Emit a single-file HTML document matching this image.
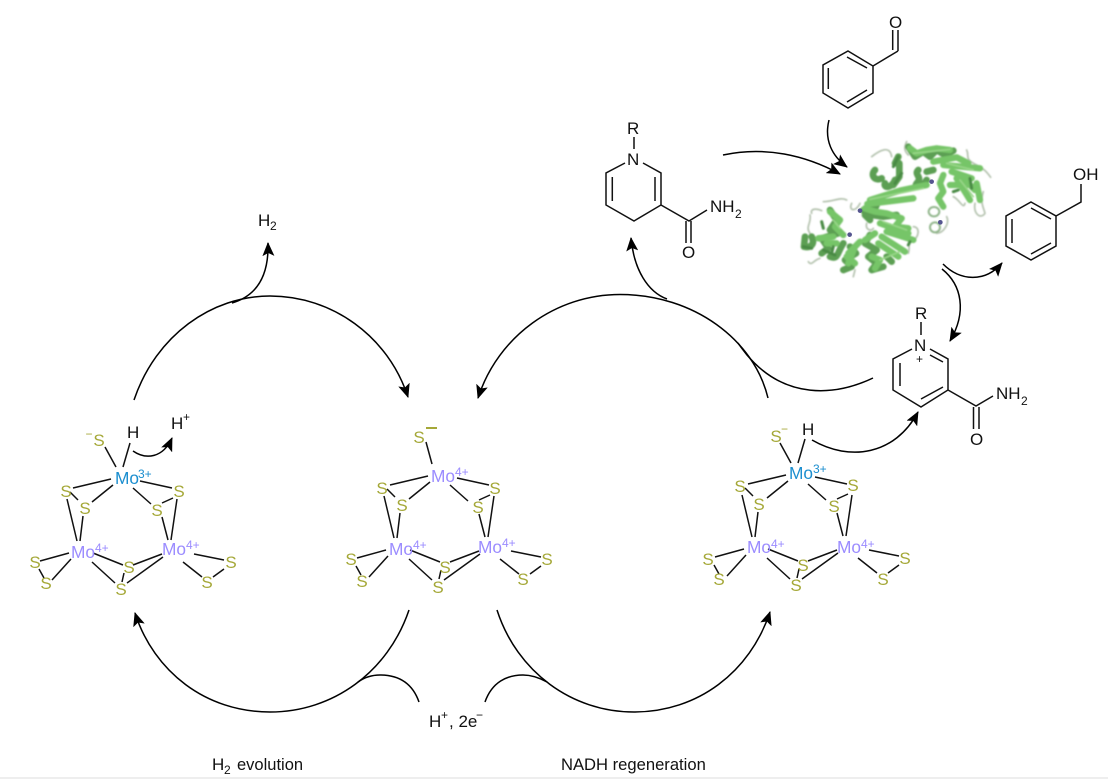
<!DOCTYPE html>
<html><head><meta charset="utf-8"><style>
html,body{margin:0;padding:0;background:#fff;width:1108px;height:780px;overflow:hidden}
svg{display:block}
text{font-family:"Liberation Sans",Arial,sans-serif;font-size:17px;fill:#111}
.s{fill:#a5a838;text-anchor:middle}
.m4{fill:#9b8cff;font-size:17.3px}.m3{fill:#1b8ecf;font-size:17.3px}
text.sm{font-size:12px}
.b{fill:none;stroke:#111;stroke-width:1.5}
.a{fill:none;stroke:#000;stroke-width:1.5}
</style></head><body>
<svg width="1108" height="780" viewBox="0 0 1108 780" xmlns="http://www.w3.org/2000/svg">
<defs>
<marker id="ar" viewBox="0 0 14 12" refX="13" refY="6" markerWidth="14" markerHeight="12" markerUnits="userSpaceOnUse" orient="auto"><path d="M0 0L14 6L0 12L3 6Z" fill="#000"/></marker>
<filter id="bl" x="-5%" y="-5%" width="110%" height="110%"><feGaussianBlur stdDeviation="2.4"/></filter>
<path id="cl" d="M105 447L116 467M70 492L78 500 M73 488L111 479M92 502L113 485M67 499L77 541M83 516L80 541M140 481L172 488M133 488L151 504M162 503L173 498M177 499L171 540M162 517L168 540M40 561L69 553M39 569L44 578M52 580L71 559M93 553L123 565M92 562L115 583M133 565L162 554M127 583L163 557M124 573L122 582M194 554L224 560M183 562L202 577M213 577L224 569"/>
</defs>

<!-- clusters -->
<use href="#cl" class="b"/><path class="b" d="M130 443L123 467"/>
<text class="s" x="99" y="446">S</text><text class="s sm" x="89" y="438">−</text>
<text x="127" y="438">H</text>
<text class="m3" x="115" y="484">Mo</text><text class="m3 sm" x="138" y="478">3+</text>
<text class="s" x="66" y="497">S</text><text class="s" x="85" y="514">S</text><text class="s" x="179" y="497">S</text><text class="s" x="157" y="516">S</text>
<text class="m4" x="71" y="558">Mo</text><text class="m4 sm" x="95" y="552">4+</text>
<text class="m4" x="162" y="555">Mo</text><text class="m4 sm" x="186" y="549">4+</text>
<text class="s" x="35" y="568">S</text><text class="s" x="46" y="589">S</text><text class="s" x="231" y="568">S</text><text class="s" x="207" y="588">S</text><text class="s" x="129" y="573">S</text><text class="s" x="121" y="595">S</text>

<g transform="translate(317,-3)"><path class="b" d="M109 445L115 467 M70 492L78 500 M73 488L111 479M92 502L113 485M67 499L77 541M83 516L80 541M140 481L172 488M133 488L151 504M162 503L173 498M177 499L171 540M162 517L168 540M40 561L69 553M39 569L44 578M52 580L71 559M93 553L123 565M92 562L115 583M133 565L162 554M127 583L163 557M124 573L122 582M194 554L224 560M183 562L202 577M213 577L224 569"/></g>
<text class="s" x="419" y="443">S</text><rect x="426" y="427" width="11" height="2" fill="#a5a838"/>
<text class="m4" x="431" y="482">Mo</text><text class="m4 sm" x="455" y="476">4+</text>
<text class="s" x="382" y="494">S</text><text class="s" x="402" y="511">S</text><text class="s" x="495" y="494">S</text><text class="s" x="478" y="513">S</text>
<text class="m4" x="389" y="555">Mo</text><text class="m4 sm" x="413" y="549">4+</text>
<text class="m4" x="478" y="553">Mo</text><text class="m4 sm" x="502" y="547">4+</text>
<text class="s" x="351" y="565">S</text><text class="s" x="362" y="587">S</text><text class="s" x="547" y="565">S</text><text class="s" x="523" y="585">S</text><text class="s" x="445" y="573">S</text><text class="s" x="438" y="593">S</text>

<g transform="translate(675,-4)"><use href="#cl" class="b"/><path class="b" d="M130 443L123 467"/></g>
<text class="s" x="776" y="442">S</text><text class="sm" x="781" y="433" style="fill:#a5a838">−</text>
<text x="802" y="435">H</text>
<text class="m3" x="789" y="479">Mo</text><text class="m3 sm" x="813" y="473">3+</text>
<text class="s" x="740" y="492">S</text><text class="s" x="759" y="510">S</text><text class="s" x="853" y="491">S</text><text class="s" x="834" y="512">S</text>
<text class="m4" x="747" y="553">Mo</text><text class="m4 sm" x="771" y="548">4+</text>
<text class="m4" x="837" y="553">Mo</text><text class="m4 sm" x="861" y="548">4+</text>
<text class="s" x="708" y="565">S</text><text class="s" x="719" y="585">S</text><text class="s" x="905" y="564">S</text><text class="s" x="883" y="585">S</text><text class="s" x="803" y="571">S</text><text class="s" x="796" y="591">S</text>

<!-- big arrows -->
<path class="a" marker-end="url(#ar)" d="M134 400C156 335 212 296 270 296C332 296 388 336 408 397"/>
<path class="a" marker-end="url(#ar)" d="M232 303C256 296 269 277 268 243"/>
<path class="a" marker-end="url(#ar)" d="M768 398C754 340 694 294.500 620 294.500C556 294.500 498 336 478 398"/>
<path class="a" marker-end="url(#ar)" d="M667 299C648 292 634 270 631 238"/>
<path class="a" d="M873 378C835 396 785 400 747 355C743 350 740 346 738 343"/>
<path class="a" marker-end="url(#ar)" d="M409 610C388 672 333 712 270 712C206 712 154 672 135 613"/>
<path class="a" d="M419 702C412 682 397 675 380 675C372 675 365 677 358 682"/>
<path class="a" marker-end="url(#ar)" d="M497 610C517 672 572 712 634 712C698 712 750 672 770 612"/>
<path class="a" d="M485 702C492 682 507 675 523 675C531 675 538 677 547 682"/>
<path class="a" marker-end="url(#ar)" d="M812 440C850 462 895 455 918 412"/>
<path class="a" marker-end="url(#ar)" d="M133 451C146 460 163 458 172 438"/>
<path class="a" marker-end="url(#ar)" d="M723 155C765 146 805 155 840 174"/>
<path class="a" marker-end="url(#ar)" d="M829 120C824 140 832 156 847 167"/>
<path class="a" marker-end="url(#ar)" d="M943 264C960 281 985 283 1002 263"/>
<path class="a" marker-end="url(#ar)" d="M942 269C962 285 967 312 950 341"/>

<!-- labels -->
<text x="258" y="226">H</text><text class="sm" x="270" y="230">2</text>
<text x="171" y="429">H</text><text class="sm" x="183" y="421">+</text>
<text x="429" y="727">H</text><text class="sm" x="441" y="719">+</text><text x="449" y="727">, 2e</text><text class="sm" x="476" y="719">−</text>
<text x="212" y="770">H</text><text class="sm" x="224" y="774">2</text><text x="237" y="770" style="font-size:16.500px">evolution</text>
<text x="561" y="770" style="font-size:16.600px">NADH regeneration</text>

<!-- dihydronicotinamide -->
<path class="b" d="M634 137V149M625 163L606 173V205L634 221L661 205V173L643 163M612.300 177V201M655 177V201M661 205L689 221L707 210M686 221V243M691 221V243"/>
<text x="627" y="134">R</text><text x="627" y="165">N</text>
<text x="710" y="212">NH</text><text class="sm" x="735" y="218">2</text><text x="682" y="258">O</text>

<!-- NAD+ -->
<path class="b" d="M921 322V335M912 349L893 359V390L921 407L948 390V359L930 349M900 363V386M921 399L943 387M930 355L943 362M948 390L976 406L993 396M973.500 407V429M979 407V429"/>
<text x="915" y="319">R</text><text x="914" y="351">N</text><text class="sm" x="916" y="363">+</text>
<text x="996" y="399">NH</text><text class="sm" x="1021" y="405">2</text><text x="970" y="445">O</text>

<!-- benzaldehyde -->
<path class="b" d="M848 51L873 66V93L848 108L823 93V65ZM828.300 68V89M847 57L867 68M847 102L867 90M873 66L898 51M892.700 30V50M898 30V51"/>
<text x="889" y="28">O</text>

<!-- benzyl alcohol -->
<path class="b" d="M1031 202L1056 216V246L1031 260L1006 246V216ZM1012 219V243M1031 208L1051 219M1031 254L1051 243M1056 216L1081 202V184"/>
<text x="1073" y="180">OH</text>

<!-- protein -->
<g transform="translate(780,120) scale(.3333)" fill="none" stroke-linecap="round" stroke-linejoin="round">
<g filter="url(#bl)">
<g stroke="#b4c2ae" stroke-width="5">
<path d="M275 110C300 90 330 75 335 110M380 65C370 85 375 95 385 105M560 90C570 110 550 115 590 135C610 145 620 155 632 172M585 250C580 280 600 300 615 280C610 260 600 250 610 215"/>
<path d="M200 240C180 230 160 245 130 245M95 280C90 265 110 265 125 272M90 285C95 310 75 320 90 340M85 425C95 440 100 420 120 415M220 470L225 450M385 400C392 380 380 370 395 365C420 350 420 320 400 320"/>
<path d="M215 250C205 270 225 280 240 250M260 310C255 330 275 335 280 325M500 290C510 310 490 340 470 340M520 230C540 240 550 270 555 250"/>
</g>
<ellipse cx="462" cy="275" rx="16" ry="14" stroke="#90b58a" stroke-width="6"/>
<ellipse cx="465" cy="322" rx="15" ry="15" stroke="#90b58a" stroke-width="6"/>
<g stroke="#5c9f52" stroke-width="20">
<path d="M385 80L405 110L430 95L450 110L470 90L495 105L520 92"/>
<path d="M285 150C270 165 285 185 305 175M315 190C310 205 335 205 345 180"/>
<path d="M355 110L345 130M358 130L358 170L340 195"/>
<path d="M415 150C400 165 430 170 410 190C400 205 425 205 440 180M440 155L460 150"/>
<path d="M75 350L72 380M95 350C105 370 95 385 72 380"/>
<path d="M150 270L170 300L150 330L175 340L125 355L145 385L125 400M190 370C170 400 175 420 150 410"/>
<path d="M210 380L228 400L195 420L215 440L190 450"/>
<path d="M270 345L255 370L290 390L265 410L290 430L275 450L310 440M320 410L335 425"/>
<path d="M250 270L270 300L255 285L290 255L275 285L310 290L350 285"/>
</g>
<g stroke="#76c567" stroke-width="19">
<path d="M390 85L410 100L440 90L470 85L510 90"/>
<path d="M460 125L530 112L565 130M490 135L600 145"/>
<path d="M270 240L360 212L440 195M262 252L400 235"/>
<path d="M490 165L480 190L490 215L475 235L490 260"/>
<path d="M515 155L575 175M530 175L570 240M510 195L560 195M590 190L600 240M545 170L585 210"/>
<path d="M255 265L285 275L320 280L365 295L345 320L385 325L375 345"/>
<path d="M300 310L385 340M320 335L400 360M305 350L375 395M295 370L355 410"/>
<path d="M150 275L180 300L165 320L190 345M115 355L160 350M205 400L240 365M225 380L205 430"/>
<path d="M255 360L285 340M140 370L170 370"/>
<path d="M275 410L300 420L285 445M200 410L225 430"/>
</g>
<g stroke="#4a8a44" stroke-width="9">
<path d="M130 390L165 405M125 305L130 325M160 380L155 400M520 215L535 210M570 175L575 205M345 190L365 160M390 365L385 375M70 380L95 385M340 140L355 110"/>
</g>
<g stroke="#98d688" stroke-width="5">
<path d="M270 238L430 205M500 130L580 150M310 305L380 330M300 420L360 395M160 300L180 325M400 100L510 88M540 180L580 230"/>
</g>
</g>
<g fill="#55558f"><circle cx="209" cy="344" r="7"/><circle cx="240" cy="272" r="7"/><circle cx="455" cy="185" r="7"/><circle cx="481" cy="307" r="7"/></g>
</g>

<rect x="0" y="777" width="1108" height="2" fill="#eeeeee"/>
</svg>
</body></html>
